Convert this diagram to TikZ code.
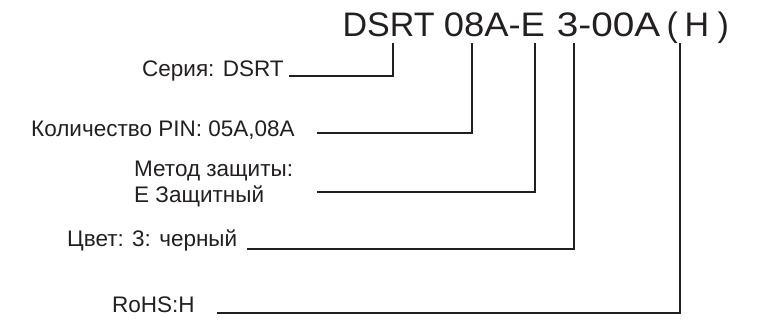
\documentclass[tikz,border=0pt]{standalone}
\usepackage{fontspec}
\setmainfont{Liberation Sans}
\definecolor{ink}{HTML}{231F20}
\begin{document}
\begin{tikzpicture}[x=1pt,y=-1pt,
  lbl/.style={inner sep=0pt, anchor=base west, font=\fontsize{22.5}{27}\selectfont, text=ink},
  ttl/.style={inner sep=0pt, anchor=base west, font=\fontsize{34}{40}\selectfont, text=ink},
  lead/.style={draw=ink, line width=1.2pt}]
\useasboundingbox (0,0) rectangle (764,328);
% title
\node[ttl] (tA) at (342.4,37) {DSRT};
\node[ttl] (tB) at (443.6,37) {\scalebox{1.07}[1]{08A-E}};
\node[ttl] (tC) at (556.6,37) {\scalebox{1.14}[1]{3-00A}};
\node[ttl] (tD) at (666.5,37) {(};
\node[ttl] (tE) at (684.3,37) {H};
\node[ttl] (tF) at (717.5,37) {)};
% labels
\node[lbl] (s1) at (142,77) {Серия: DSRT};
\node[lbl] (s2) at (31,137) {Количество PIN: 05A,08A};
\node[lbl] (s3) at (134,177) {Метод защиты:};
\node[lbl] (s3b) at (134,203) {Е Защитный};
\node[lbl] (s4) at (67,247) {Цвет: 3: черный};
\node[lbl] (s5) at (112,313) {RoHS:H};
% connector points
\coordinate (a1) at (289,76);  \coordinate (b1) at (393,43);
\coordinate (a2) at (317,133); \coordinate (b2) at (472,43);
\coordinate (a3) at (317,192); \coordinate (b3) at (535,43);
\coordinate (a4) at (247,249); \coordinate (b4) at (574,43);
\coordinate (a5) at (217,313); \coordinate (b5) at (680,43);
\foreach \i in {1,...,5} \draw[lead] (a\i) -| (b\i);
\end{tikzpicture}
\end{document}
